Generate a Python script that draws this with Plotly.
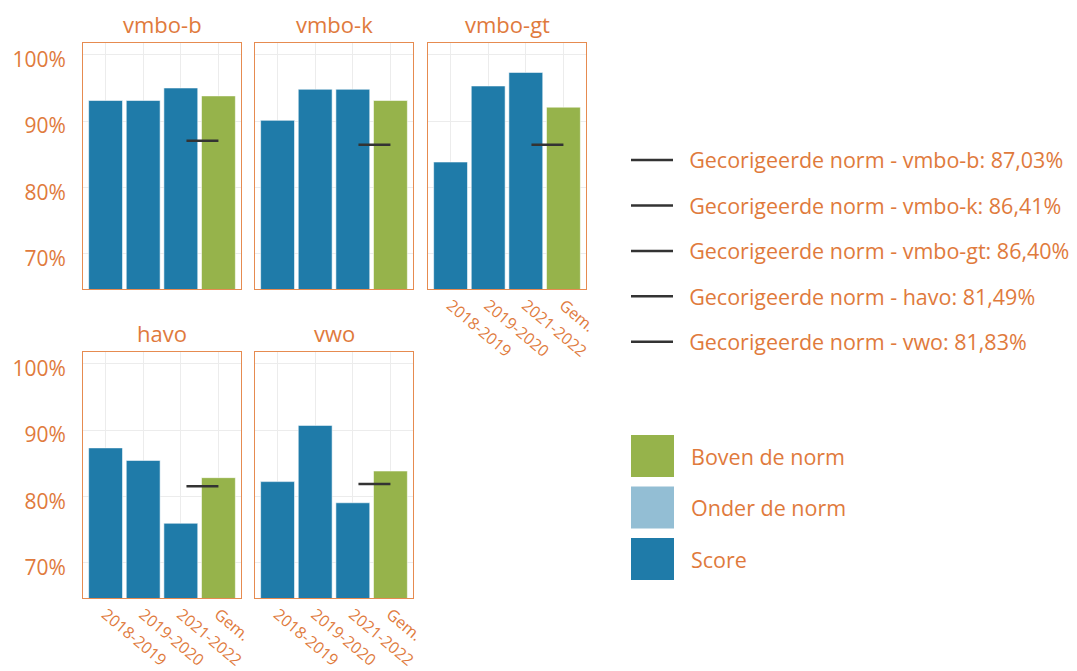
import plotly.graph_objects as go
from plotly.subplots import make_subplots

# Data
categories = ['2018-2019', '2019-2020', '2021-2022', 'Gem.']
levels = ['vmbo-b', 'vmbo-k', 'vmbo-gt', 'havo', 'vwo']

vmbo_b = [93.1, 93.1, 95.0, 93.8]
vmbo_k = [90.1, 94.8, 94.8, 93.1]
vmbo_gt = [83.8, 95.3, 97.35, 92.1]
havo = [87.3, 85.4, 75.9, 82.8]
vwo = [82.2, 90.7, 79.0, 83.8]
norms = [87.03, 86.41, 86.40, 81.49, 81.83]
y_ticks = [70, 80, 90, 100]

score_list = [vmbo_b, vmbo_k, vmbo_gt, havo, vwo]

# Styling
ORANGE = '#E07A3C'
BORDER = '#E68B50'
GRID = '#ECECEC'
BLUE = '#1F7BA9'
LIGHT_BLUE = '#93BED4'
GREEN = '#96B34B'
NORM_LINE = '#333333'
FONT = 'Open Sans'

# page is 1077x671, the html body adds an 8px margin
OFF = 8
FW, FH = 1077 - OFF, 671 - OFF


def px(x):
    return (x - OFF) / FW


def py(y):
    return 1 - (y - OFF) / FH


col_px = [(83, 241), (255, 413), (428, 586)]
row_px = [(43, 289), (352, 598)]

fig = make_subplots(rows=2, cols=3)

x_pos = list(range(len(categories)))
gem_idx = categories.index('Gem.')
prev_idx = gem_idx - 1

for i, (level, scores, norm) in enumerate(zip(levels, score_list, norms)):
    row = i // 3 + 1
    col = i % 3 + 1
    colors = [BLUE] * (len(scores) - 1)
    colors.append(GREEN if scores[gem_idx] >= norm else LIGHT_BLUE)
    fig.add_trace(
        go.Bar(
            x=x_pos,
            y=scores,
            width=0.9,
            marker=dict(color=colors, line=dict(color='rgba(255,255,255,0.55)', width=1)),
            showlegend=False,
            hovertemplate='%{y:.1f}%<extra>' + level + '</extra>'
        ),
        row=row,
        col=col
    )
    label = 'Gecorigeerde norm - %s: %s%%' % (level, ('%.2f' % norm).replace('.', ','))
    fig.add_trace(
        go.Scatter(
            x=[prev_idx + 0.15, gem_idx],
            y=[norm, norm],
            mode='lines',
            line=dict(color=NORM_LINE, width=2.5),
            name='\u00a0\u00a0' + label,
            legendgroup=level,
            showlegend=True
        ),
        row=row,
        col=col
    )

# Axes: place panels and style them
for n in range(1, 7):
    r = (n - 1) // 3
    c = (n - 1) % 3
    x0, x1 = col_px[c]
    y0, y1 = row_px[r]
    xname = 'xaxis' if n == 1 else 'xaxis%d' % n
    yname = 'yaxis' if n == 1 else 'yaxis%d' % n
    if n == 6:
        fig.layout[xname].update(visible=False, automargin=False, domain=[px(x0), px(x1)])
        fig.layout[yname].update(visible=False, automargin=False, domain=[py(y1), py(y0)])
        continue
    fig.layout[xname].update(
        domain=[px(x0), px(x1)],
        automargin=False,
        range=[-0.6, len(categories) - 0.4],
        tickvals=x_pos,
        ticktext=categories,
        tickangle=40,
        showticklabels=n in (3, 4, 5),
        tickfont=dict(family=FONT, size=16, color=ORANGE),
        ticklabelstandoff=0,
        showgrid=True,
        gridcolor=GRID,
        gridwidth=1,
        zeroline=False,
        showline=True,
        mirror=True,
        linecolor=BORDER,
        linewidth=1,
        fixedrange=True
    )
    fig.layout[yname].update(
        domain=[py(y1), py(y0)],
        automargin=False,
        range=[64.6, 101.8],
        tickvals=y_ticks,
        ticktext=['%d%%' % v for v in y_ticks],
        showticklabels=c == 0,
        tickfont=dict(family=FONT, size=21, color=ORANGE),
        ticklabelstandoff=12,
        ticklabelshift=5,
        showgrid=True,
        gridcolor=GRID,
        gridwidth=1,
        zeroline=False,
        showline=True,
        mirror=True,
        linecolor=BORDER,
        linewidth=1,
        fixedrange=True
    )

# Panel titles
for i, level in enumerate(levels):
    r = i // 3
    c = i % 3
    x0, x1 = col_px[c]
    y0 = row_px[r][0]
    fig.add_annotation(
        text=level,
        x=px((x0 + x1) / 2),
        y=py(y0 - 2),
        xref='paper',
        yref='paper',
        xanchor='center',
        yanchor='bottom',
        showarrow=False,
        font=dict(family=FONT, size=22, color=ORANGE)
    )

# Fill legend (large squares, drawn by hand)
fill_items = [('Boven de norm', GREEN), ('Onder de norm', LIGHT_BLUE), ('Score', BLUE)]
for k, (label, color) in enumerate(fill_items):
    top = 435 + k * 51.5
    fig.add_shape(
        type='rect',
        xref='paper',
        yref='paper',
        x0=px(631),
        x1=px(674),
        y0=py(top + 42),
        y1=py(top),
        fillcolor=color,
        line=dict(width=0)
    )
    fig.add_annotation(
        text=label,
        x=px(689),
        y=py(top + 21),
        xref='paper',
        yref='paper',
        xanchor='left',
        yanchor='middle',
        showarrow=False,
        font=dict(family=FONT, size=21.5, color=ORANGE)
    )

fig.update_layout(
    width=FW,
    height=FH,
    autosize=False,
    margin=dict(l=0, r=0, t=0, b=0),
    paper_bgcolor='white',
    plot_bgcolor='white',
    bargap=0.1,
    font=dict(family=FONT, color=ORANGE),
    legend=dict(
        x=px(626),
        y=py(139.5),
        xanchor='left',
        yanchor='top',
        font=dict(family=FONT, size=21.5, color=ORANGE),
        tracegroupgap=14.5,
        itemwidth=42,
        bgcolor='rgba(0,0,0,0)'
    )
)

fig.write_html('out.html')
